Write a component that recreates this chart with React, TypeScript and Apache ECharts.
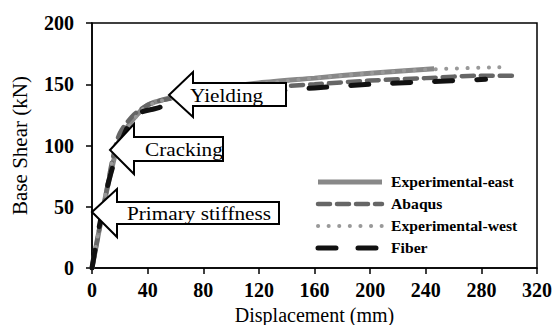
import React, { useEffect, useRef } from "react";
import * as echarts from "echarts";

const xTicks = { min: 0, max: 320, interval: 40 };
const yTicks = { min: 0, max: 200, interval: 50 };

const expEast: [number, number][] = [
  [0, 0], [5, 30], [10, 60], [15, 85], [20, 105], [30, 122], [40, 133], [50, 137],
  [60, 140], [80, 145], [120, 151], [160, 155], [200, 159], [246, 162.6],
];
const abaqus: [number, number][] = [
  [0, 0], [5, 30], [10, 60], [15, 90], [20, 110], [30, 125], [40, 133], [50, 137],
  [60, 139], [80, 142], [100, 145], [120, 147], [160, 150], [200, 153], [240, 155],
  [280, 157], [302, 157],
];
const expWest: [number, number][] = [
  [0, 0], [5, 32], [10, 62], [15, 88], [25, 112], [35, 128], [45, 135], [60, 139],
  [80, 144], [120, 150], [160, 155], [200, 159], [240, 162], [297, 164],
];
const fiber: [number, number][] = [
  [0, 0], [3, 20], [8, 50], [13, 75], [20, 100], [28, 120], [35, 127], [45, 130],
  [55, 133], [80, 138], [120, 143], [160, 147], [200, 150], [240, 152], [283, 154],
];

const seriesNames = ["Experimental-east", "Abaqus", "Experimental-west", "Fiber"];
const annotations = ["Yielding", "Cracking", "Primary stiffness"];

const SERIF = "'Liberation Serif', 'Times New Roman', serif";

const styles = [
  { color: "#888", width: 5, dash: null as number[] | null },
  { color: "#666", width: 4.5, dash: [12, 7] },
  { color: "#999", width: 4, dash: [0.1, 10.5] },
  { color: "#111", width: 5, dash: [18, 24] },
];

export default function App() {
  const ref = useRef<HTMLDivElement>(null);
  useEffect(() => {
    document.body.style.margin = "0";
    if (!ref.current) return;
    const chart = echarts.init(ref.current, undefined, { renderer: "svg" });
    const arrow = (pts: number[][], text: string, tx: number, ty: number) => [
      {
        type: "polygon",
        z: 100,
        shape: { points: pts },
        style: { fill: "#fff", stroke: "#000", lineWidth: 2 },
      },
      {
        type: "text",
        z: 101,
        x: tx,
        y: ty,
        scaleX: 1.18,
        style: {
          text,
          font: `18px ${SERIF}`,
          fill: "#000",
          verticalAlign: "middle",
          align: "left",
        },
      },
    ];
    const legendX = 316;
    const legendY = [182, 204, 226, 248];
    const legendItems: any[] = [];
    seriesNames.forEach((n, i) => {
      const s = styles[i];
      legendItems.push({
        type: "line",
        z: 50,
        shape: { x1: legendX + 2, y1: legendY[i], x2: legendX + 66, y2: legendY[i] },
        style: {
          stroke: s.color,
          lineWidth: s.width,
          lineDash: i === 3 ? [18, 22] : s.dash || undefined,
          lineCap: s.dash ? "round" : "butt",
        },
      });
      legendItems.push({
        type: "text",
        z: 50,
        x: 391,
        y: legendY[i],
        scaleX: 1.12,
        style: { text: n, font: `bold 14px ${SERIF}`, fill: "#000", verticalAlign: "middle", align: "left" },
      });
    });
    chart.setOption({
      animation: false,
      grid: {
        left: 92, right: 18, top: 23, bottom: 57, show: true, borderColor: "#000", borderWidth: 1.5,
        containLabel: false, outerBoundsMode: "none",
      },
      xAxis: {
        type: "value",
        ...xTicks,
        name: "Displacement (mm)",
        nameLocation: "middle",
        nameGap: 34,
        nameTextStyle: { fontFamily: SERIF, fontSize: 20, color: "#000" },
        axisLine: { show: true, onZero: false, lineStyle: { color: "#000", width: 1.5 } },
        axisTick: { show: true, inside: false, length: 6, lineStyle: { color: "#000", width: 1.5 } },
        axisLabel: { fontFamily: SERIF, fontSize: 20, fontWeight: "bold", color: "#000", margin: 12 },
        splitLine: { show: false },
      },
      yAxis: {
        type: "value",
        ...yTicks,
        name: "Base Shear (kN)",
        nameLocation: "middle",
        nameGap: 62,
        nameTextStyle: { fontFamily: SERIF, fontSize: 21, color: "#000" },
        axisLine: { show: true, onZero: false, lineStyle: { color: "#000", width: 1.5 } },
        axisTick: { show: true, inside: false, length: 6, lineStyle: { color: "#000", width: 1.5 } },
        axisLabel: { fontFamily: SERIF, fontSize: 20, fontWeight: "bold", color: "#000", margin: 18 },
        splitLine: { show: false },
      },
      series: seriesNames.map((n, i) => ({
        name: n,
        type: "line",
        data: [expEast, abaqus, expWest, fiber][i],
        symbol: "none",
        smooth: 0.3,
        z: 2 + i,
        lineStyle: {
          color: styles[i].color,
          width: styles[i].width,
          type: styles[i].dash || "solid",
          cap: styles[i].dash ? "round" : "butt",
        },
        itemStyle: { color: styles[i].color },
      })),
      graphic: [
        ...legendItems,
        ...arrow([[169, 95], [193, 72], [193, 83], [286, 83], [286, 106], [193, 106], [193, 117]], annotations[0], 190, 96),
        ...arrow([[110, 150], [134, 124], [134, 137], [223, 137], [223, 161], [134, 161], [134, 174]], annotations[1], 145, 150),
        ...arrow([[92, 212], [117, 189], [117, 202], [279, 202], [279, 224], [117, 224], [117, 237]], annotations[2], 127, 214),
      ],
    });
    return () => chart.dispose();
  }, []);
  return <div ref={ref} style={{ width: 555, height: 325 }} />;
}
